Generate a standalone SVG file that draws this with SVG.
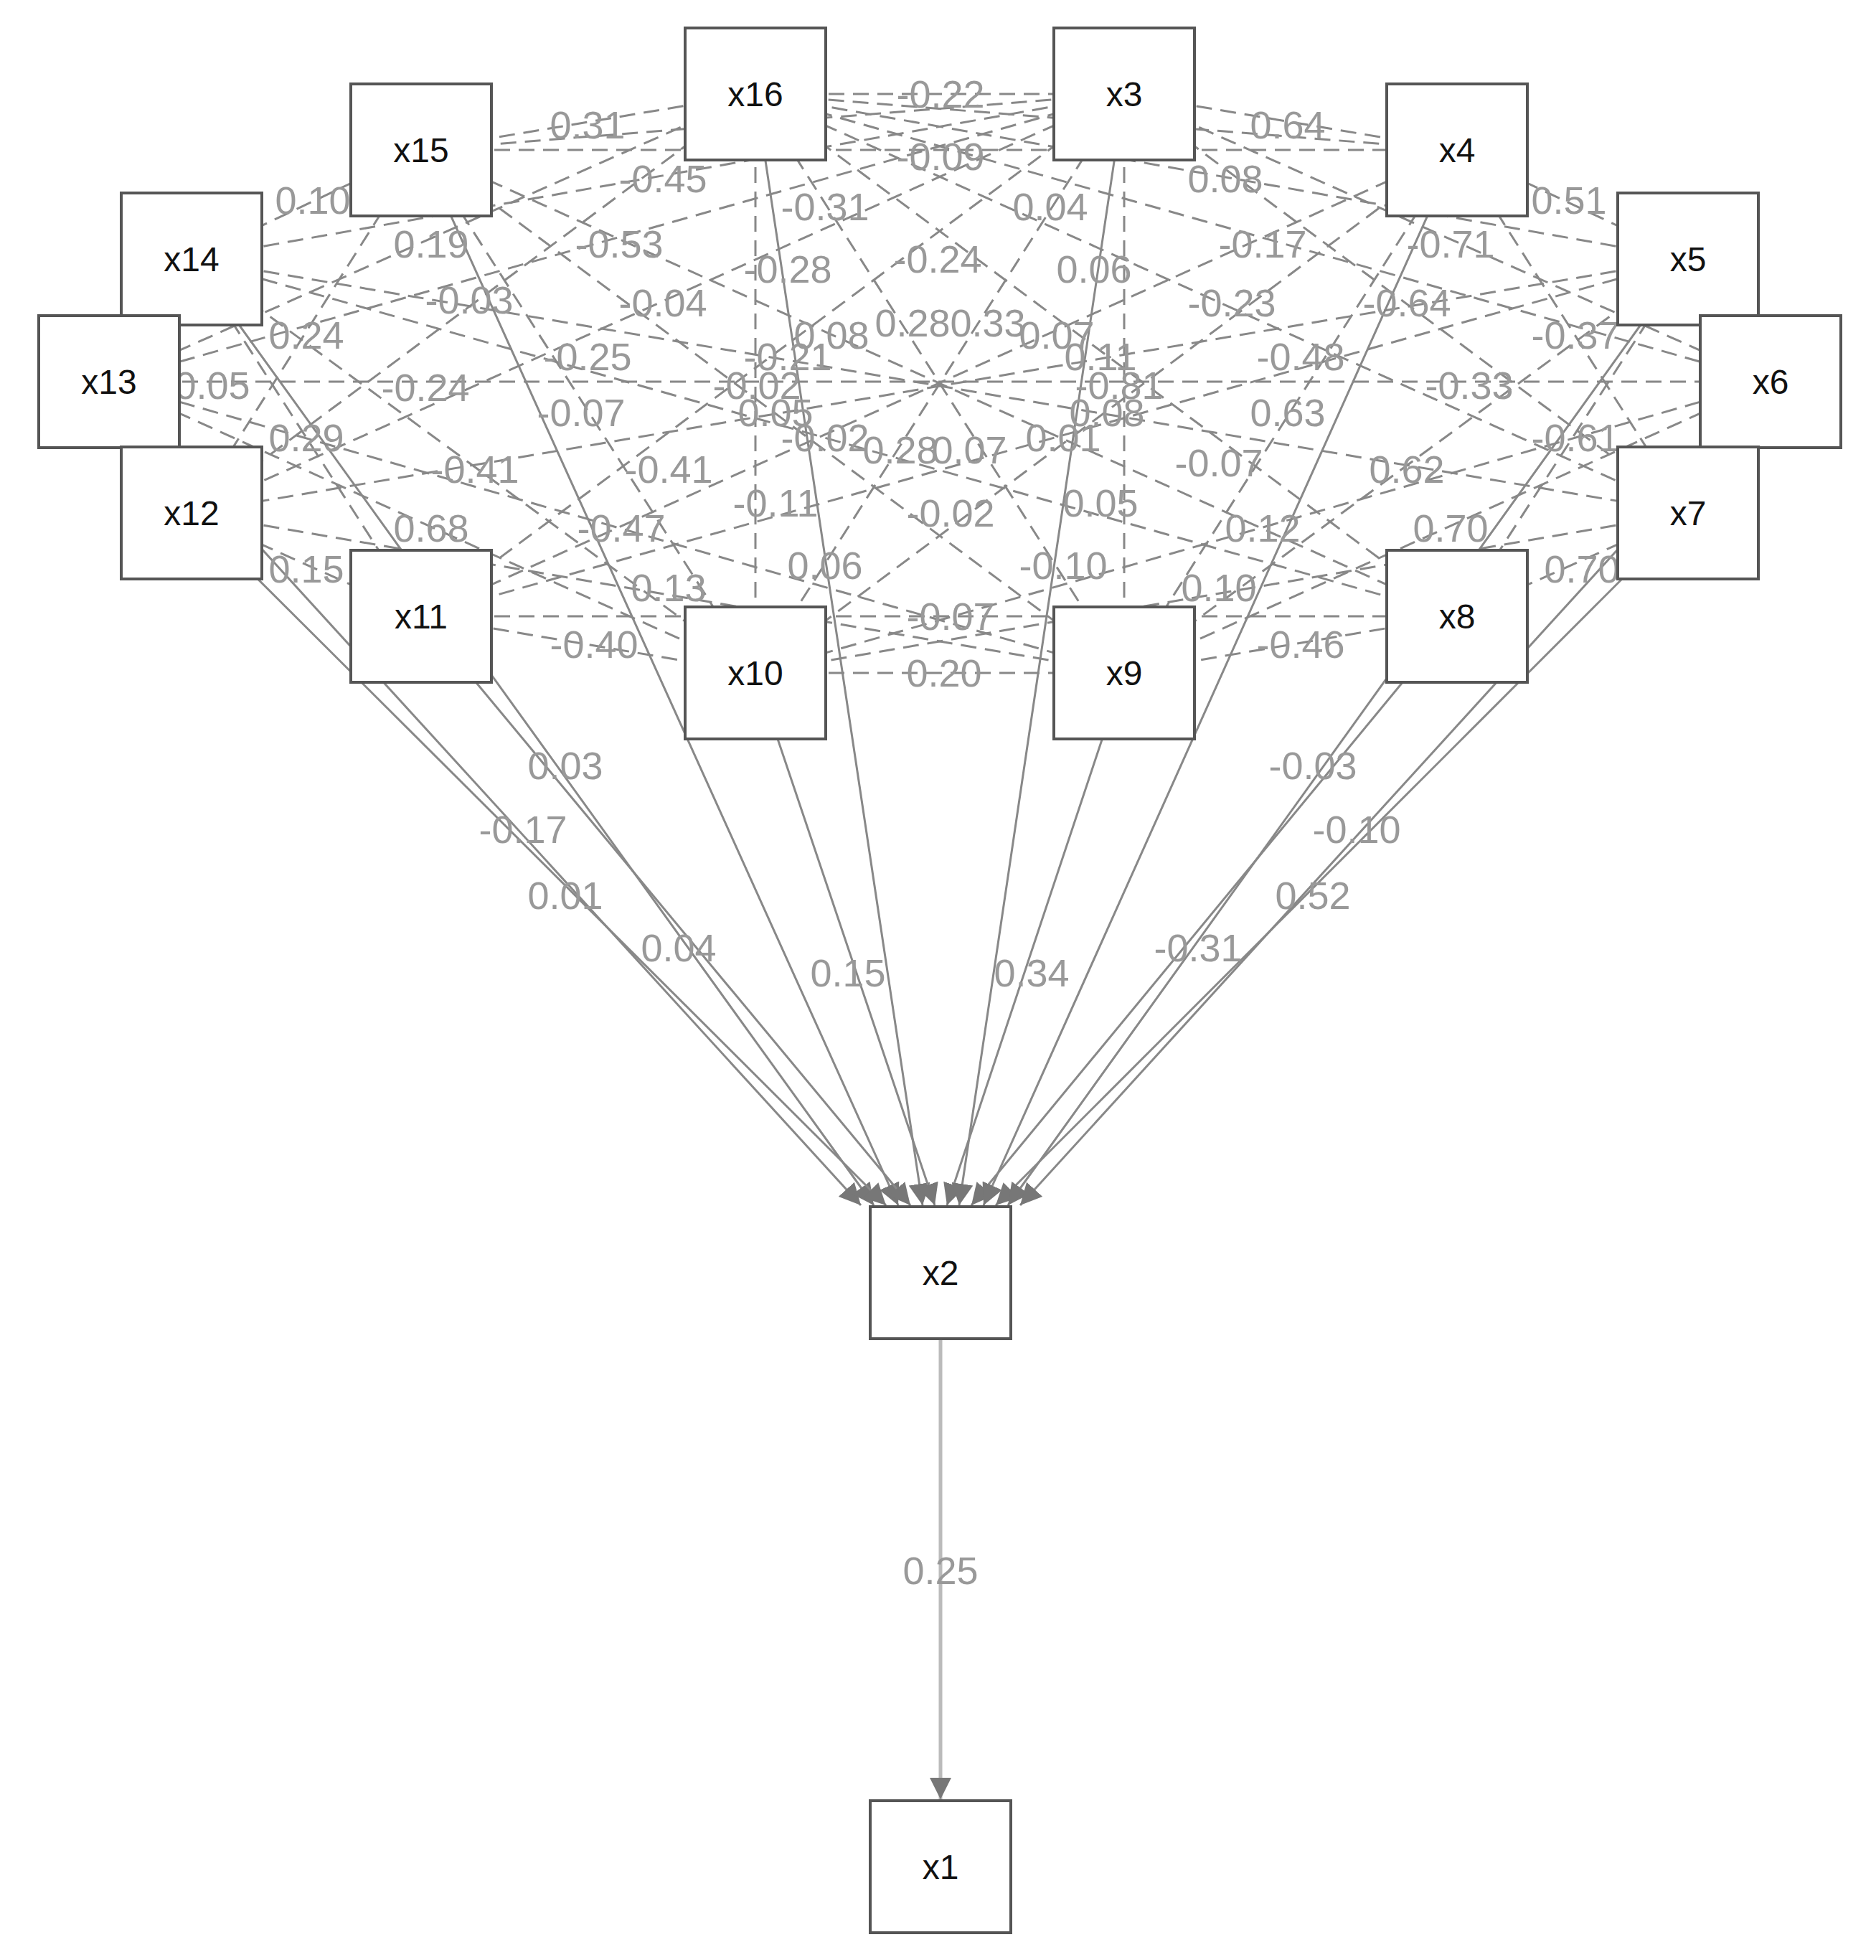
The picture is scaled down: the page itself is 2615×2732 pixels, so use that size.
<svg xmlns="http://www.w3.org/2000/svg" width="2615" height="2732" viewBox="0 0 2615 2732">
<style>
.n rect{fill:#fff;stroke:#555;stroke-width:4}
.n text{font-family:"Liberation Sans",Arial,sans-serif;font-size:48px;fill:#111;text-anchor:middle;dominant-baseline:central}
.c{stroke:#888;stroke-width:3;stroke-dasharray:22 12;fill:none}
.s{stroke:#888;stroke-width:3;fill:none;marker-end:url(#b)}
.l{font-family:"Liberation Sans",Arial,sans-serif;font-size:54px;fill:#999;text-anchor:middle;dominant-baseline:central}
</style>
<defs>
<marker id="b" viewBox="0 0 10 10" refX="10" refY="5" markerWidth="30" markerHeight="30" orient="auto" markerUnits="userSpaceOnUse"><path d="M0,0L10,5L0,10z" fill="#777"/></marker></defs>
<rect width="2615" height="2732" fill="#fff"/>
<g id="connectors">
<g>
<line class="c" x1="1053" y1="131" x2="1567" y2="131"/><line class="c" x1="1053" y1="131" x2="587" y2="209"/><line class="c" x1="1567" y1="131" x2="2031" y2="209"/>
<line class="c" x1="587" y1="209" x2="267" y2="361"/><line class="c" x1="2031" y1="209" x2="2353" y2="361"/><line class="c" x1="267" y1="361" x2="152" y2="532"/>
<line class="c" x1="2353" y1="361" x2="2468" y2="532"/><line class="c" x1="152" y1="532" x2="267" y2="715"/><line class="c" x1="2468" y1="532" x2="2353" y2="715"/>
<line class="c" x1="267" y1="715" x2="587" y2="859"/><line class="c" x1="2353" y1="715" x2="2031" y2="859"/><line class="c" x1="587" y1="859" x2="1053" y2="938"/>
<line class="c" x1="2031" y1="859" x2="1567" y2="938"/><line class="c" x1="1053" y1="938" x2="1567" y2="938"/>
<line class="c" x1="1053" y1="131" x2="1053" y2="938"/><line class="c" x1="1567" y1="131" x2="1567" y2="938"/><line class="c" x1="587" y1="209" x2="2031" y2="859"/>
<line class="c" x1="2031" y1="209" x2="587" y2="859"/><line class="c" x1="267" y1="361" x2="2353" y2="715"/><line class="c" x1="2353" y1="361" x2="267" y2="715"/>
<line class="c" x1="152" y1="532" x2="2468" y2="532"/><line class="c" x1="1053" y1="131" x2="1567" y2="938"/><line class="c" x1="1567" y1="131" x2="1053" y2="938"/>
<line class="c" x1="587" y1="209" x2="1567" y2="938"/><line class="c" x1="2031" y1="209" x2="1053" y2="938"/><line class="c" x1="267" y1="361" x2="2031" y2="859"/>
<line class="c" x1="2353" y1="361" x2="587" y2="859"/><line class="c" x1="1053" y1="131" x2="2353" y2="715"/><line class="c" x1="1567" y1="131" x2="267" y2="715"/>
<line class="c" x1="1053" y1="131" x2="2031" y2="209"/><line class="c" x1="1567" y1="131" x2="587" y2="209"/><line class="c" x1="587" y1="209" x2="1053" y2="938"/>
<line class="c" x1="2031" y1="209" x2="1567" y2="938"/><line class="c" x1="267" y1="361" x2="1053" y2="938"/><line class="c" x1="2353" y1="361" x2="1567" y2="938"/>
<line class="c" x1="152" y1="532" x2="1567" y2="131"/><line class="c" x1="2468" y1="532" x2="1053" y2="131"/><line class="c" x1="152" y1="532" x2="1567" y2="938"/>
<line class="c" x1="2468" y1="532" x2="1053" y2="938"/><line class="c" x1="267" y1="361" x2="1567" y2="131"/><line class="c" x1="2353" y1="361" x2="1053" y2="131"/>
<line class="c" x1="267" y1="715" x2="1053" y2="131"/><line class="c" x1="2353" y1="715" x2="1567" y2="131"/><line class="c" x1="587" y1="859" x2="1567" y2="131"/>
<line class="c" x1="2031" y1="859" x2="1053" y2="131"/><line class="c" x1="267" y1="361" x2="587" y2="859"/><line class="c" x1="2353" y1="361" x2="2031" y2="859"/>
<line class="c" x1="587" y1="209" x2="267" y2="715"/><line class="c" x1="2031" y1="209" x2="2353" y2="715"/><line class="c" x1="152" y1="532" x2="1053" y2="131"/>
<line class="c" x1="2468" y1="532" x2="1567" y2="131"/><line class="c" x1="152" y1="532" x2="1053" y2="938"/><line class="c" x1="2468" y1="532" x2="1567" y2="938"/>
<line class="c" x1="587" y1="859" x2="2031" y2="859"/><line class="c" x1="587" y1="209" x2="2031" y2="209"/><line class="c" x1="267" y1="715" x2="1567" y2="938"/>
<line class="c" x1="2353" y1="715" x2="1053" y2="938"/>
</g>
<g>
<line class="s" x1="152" y1="532" x2="1200" y2="1680"/><line class="s" x1="267" y1="361" x2="1218" y2="1680"/><line class="s" x1="267" y1="715" x2="1235" y2="1680"/>
<line class="s" x1="587" y1="209" x2="1252" y2="1680"/><line class="s" x1="587" y1="859" x2="1269" y2="1680"/><line class="s" x1="1053" y1="131" x2="1286" y2="1680"/>
<line class="s" x1="1053" y1="938" x2="1303" y2="1680"/><line class="s" x1="1567" y1="938" x2="1320" y2="1680"/><line class="s" x1="1567" y1="131" x2="1337" y2="1680"/>
<line class="s" x1="2031" y1="859" x2="1354" y2="1680"/><line class="s" x1="2031" y1="209" x2="1371" y2="1680"/><line class="s" x1="2353" y1="715" x2="1388" y2="1680"/>
<line class="s" x1="2353" y1="361" x2="1405" y2="1680"/><line class="s" x1="2468" y1="532" x2="1422" y2="1680"/>
<line x1="1311" y1="1866" x2="1311" y2="2508" stroke="#bbb" stroke-width="5" marker-end="url(#b)"/>
</g>
<g>
<text class="l" x="819" y="174">0.31</text><text class="l" x="1311" y="131">-0.22</text><text class="l" x="1795" y="174">0.64</text>
<text class="l" x="924" y="249">-0.45</text><text class="l" x="1311" y="218">-0.09</text><text class="l" x="1708" y="249">0.08</text>
<text class="l" x="1150" y="288">-0.31</text><text class="l" x="1464" y="288">0.04</text><text class="l" x="601" y="340">0.19</text>
<text class="l" x="863" y="340">-0.53</text><text class="l" x="1098" y="375">-0.28</text><text class="l" x="1307" y="361">-0.24</text>
<text class="l" x="1525" y="375">0.06</text><text class="l" x="1760" y="340">-0.17</text><text class="l" x="2022" y="340">-0.71</text>
<text class="l" x="654" y="418">-0.03</text><text class="l" x="924" y="422">-0.04</text><text class="l" x="1717" y="422">-0.23</text>
<text class="l" x="1961" y="422">-0.64</text><text class="l" x="427" y="467">0.24</text><text class="l" x="819" y="497">-0.25</text>
<text class="l" x="1098" y="497">-0.21</text><text class="l" x="1159" y="467">0.08</text><text class="l" x="1272" y="450">0.28</text>
<text class="l" x="1377" y="450">0.33</text><text class="l" x="1473" y="467">0.07</text><text class="l" x="1534" y="497">0.11</text>
<text class="l" x="1813" y="497">-0.48</text><text class="l" x="2196" y="467">-0.37</text><text class="l" x="593" y="540">-0.24</text>
<text class="l" x="1055" y="537">-0.02</text><text class="l" x="1560" y="537">-0.81</text><text class="l" x="2048" y="537">-0.33</text>
<text class="l" x="810" y="575">-0.07</text><text class="l" x="1081" y="575">0.05</text><text class="l" x="1543" y="575">0.08</text>
<text class="l" x="1795" y="575">0.63</text><text class="l" x="427" y="610">0.29</text><text class="l" x="1150" y="610">-0.02</text>
<text class="l" x="1255" y="627">0.28</text><text class="l" x="1351" y="627">0.07</text><text class="l" x="1482" y="610">0.01</text>
<text class="l" x="2196" y="610">-0.61</text><text class="l" x="662" y="654">-0.41</text><text class="l" x="932" y="654">-0.41</text>
<text class="l" x="1699" y="645">-0.07</text><text class="l" x="1961" y="654">0.62</text><text class="l" x="1081" y="701">-0.11</text>
<text class="l" x="1325" y="715">-0.02</text><text class="l" x="1534" y="701">0.05</text><text class="l" x="601" y="736">0.68</text>
<text class="l" x="866" y="736">-0.47</text><text class="l" x="1760" y="736">0.12</text><text class="l" x="2022" y="736">0.70</text>
<text class="l" x="932" y="819">0.13</text><text class="l" x="1150" y="788">0.06</text><text class="l" x="1482" y="788">-0.10</text>
<text class="l" x="1699" y="819">0.10</text><text class="l" x="828" y="898">-0.40</text><text class="l" x="1325" y="859">-0.07</text>
<text class="l" x="1813" y="898">-0.46</text><text class="l" x="1316" y="938">0.20</text><text class="l" x="436" y="279">0.10</text>
<text class="l" x="2187" y="279">0.51</text><text class="l" x="427" y="793">0.15</text><text class="l" x="2205" y="793">0.70</text>
<text class="l" x="296" y="537">0.05</text>
<text class="l" x="788" y="1067">0.03</text><text class="l" x="729" y="1156">-0.17</text><text class="l" x="788" y="1248">0.01</text>
<text class="l" x="946" y="1321">0.04</text><text class="l" x="1182" y="1356">0.15</text><text class="l" x="1438" y="1356">0.34</text>
<text class="l" x="1670" y="1321">-0.31</text><text class="l" x="1830" y="1248">0.52</text><text class="l" x="1891" y="1156">-0.10</text>
<text class="l" x="1830" y="1067">-0.03</text><text class="l" x="1311" y="2189">0.25</text>
</g>
</g>
<g id="x16" class="n"><rect x="955" y="39" width="196" height="184"/><text x="1053" y="131">x16</text></g>
<g id="x3" class="n"><rect x="1469" y="39" width="196" height="184"/><text x="1567" y="131">x3</text></g>
<g id="x15" class="n"><rect x="489" y="117" width="196" height="184"/><text x="587" y="209">x15</text></g>
<g id="x4" class="n"><rect x="1933" y="117" width="196" height="184"/><text x="2031" y="209">x4</text></g>
<g id="x14" class="n"><rect x="169" y="269" width="196" height="184"/><text x="267" y="361">x14</text></g>
<g id="x5" class="n"><rect x="2255" y="269" width="196" height="184"/><text x="2353" y="361">x5</text></g>
<g id="x13" class="n"><rect x="54" y="440" width="196" height="184"/><text x="152" y="532">x13</text></g>
<g id="x6" class="n"><rect x="2370" y="440" width="196" height="184"/><text x="2468" y="532">x6</text></g>
<g id="x12" class="n"><rect x="169" y="623" width="196" height="184"/><text x="267" y="715">x12</text></g>
<g id="x7" class="n"><rect x="2255" y="623" width="196" height="184"/><text x="2353" y="715">x7</text></g>
<g id="x11" class="n"><rect x="489" y="767" width="196" height="184"/><text x="587" y="859">x11</text></g>
<g id="x8" class="n"><rect x="1933" y="767" width="196" height="184"/><text x="2031" y="859">x8</text></g>
<g id="x10" class="n"><rect x="955" y="846" width="196" height="184"/><text x="1053" y="938">x10</text></g>
<g id="x9" class="n"><rect x="1469" y="846" width="196" height="184"/><text x="1567" y="938">x9</text></g>
<g id="x2" class="n"><rect x="1213" y="1682" width="196" height="184"/><text x="1311" y="1774">x2</text></g>
<g id="x1" class="n"><rect x="1213" y="2510" width="196" height="184"/><text x="1311" y="2602">x1</text></g>
</svg>
